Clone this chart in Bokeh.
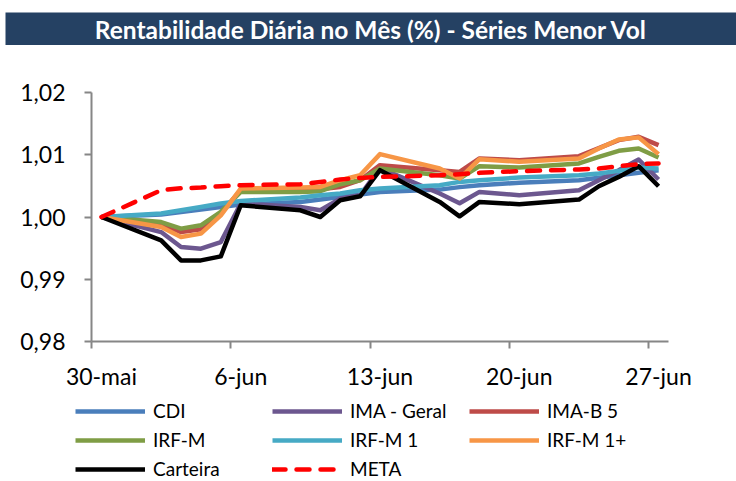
import pandas as pd
from bokeh.plotting import figure
from bokeh.models import FixedTicker, Legend, LegendItem, Range1d
from bokeh.layouts import column
from bokeh.embed import file_html
from bokeh.resources import INLINE
from bokeh.core.properties import value

TITLE = "Rentabilidade Diária no Mês (%) - Séries Menor Vol"

dates = ["2014-05-30", "2014-06-02", "2014-06-03", "2014-06-04", "2014-06-05",
         "2014-06-06", "2014-06-09", "2014-06-10", "2014-06-11", "2014-06-12",
         "2014-06-13", "2014-06-16", "2014-06-17", "2014-06-18", "2014-06-20",
         "2014-06-23", "2014-06-24", "2014-06-25", "2014-06-26", "2014-06-27"]

cdi = [1.0000, 1.0004, 1.0008, 1.0012, 1.0016, 1.0020, 1.0024, 1.0028, 1.0032, 1.0036,
       1.0040, 1.0044, 1.0048, 1.0051, 1.0055, 1.0059, 1.0063, 1.0067, 1.0071, 1.0075]
ima_geral = [1.0000, 0.99758, 0.99517, 0.99491, 0.99597, 1.00216, 1.00161, 1.00108, 1.00296, 1.00349,
             1.00784, 1.00377, 1.00221, 1.00403, 1.00349, 1.00430, 1.00591, 1.00752, 1.00924, 1.00602]
ima_b5 = [1.0000, 0.99882, 0.99758, 0.99802, 1.00060, 1.00430, 1.00430, 1.00446, 1.00483, 1.00591,
          1.00833, 1.00752, 1.00725, 1.00940, 1.00913, 1.00977, 1.01106, 1.01235, 1.01288, 1.01155]
irf_m = [1.0000, 0.99919, 0.99813, 0.99866, 1.00081, 1.00403, 1.00403, 1.00414, 1.00527, 1.00591,
         1.00779, 1.00671, 1.00618, 1.00816, 1.00795, 1.00860, 1.00966, 1.01063, 1.01101, 1.00957]
irf_m1 = [1.0000, 1.00055, 1.00108, 1.00161, 1.00216, 1.00258, 1.00312, 1.00349, 1.00377, 1.00430,
          1.00457, 1.00510, 1.00564, 1.00591, 1.00634, 1.00671, 1.00699, 1.00741, 1.00795, 1.00779]
irf_m1p = [1.0000, 0.99839, 0.99678, 0.99733, 1.00027, 1.00457, 1.00473, 1.00483, 1.00591, 1.00671,
           1.01010, 1.00779, 1.00618, 1.00929, 1.00886, 1.00940, 1.01101, 1.01246, 1.01279, 1.01010]
carteira = [1.0000, 0.99625, 0.99303, 0.99303, 0.99367, 1.00188, 1.00108, 1.00000, 1.00269, 1.00333,
            1.00752, 1.00242, 1.00011, 1.00242, 1.00205, 1.00280, 1.00494, 1.00644, 1.00816, 1.00494]
meta = [1.0000, 1.00430, 1.00462, 1.00473, 1.00494, 1.00510, 1.00527, 1.00564, 1.00602, 1.00628,
        1.00644, 1.00671, 1.00688, 1.00709, 1.00736, 1.00763, 1.00779, 1.00816, 1.00849, 1.00860]

x_tick_dates = ["2014-05-30", "2014-06-06", "2014-06-13", "2014-06-20", "2014-06-27"]
x_tick_labels = ["30-mai", "6-jun", "13-jun", "20-jun", "27-jun"]
y_tick_values = [0.98, 0.99, 1.00, 1.01, 1.02]
y_tick_labels = ["0,98", "0,99", "1,00", "1,01", "1,02"]

names = ["CDI", "IMA - Geral", "IMA-B 5", "IRF-M", "IRF-M 1", "IRF-M 1+", "Carteira", "META"]
series = [cdi, ima_geral, ima_b5, irf_m, irf_m1, irf_m1p, carteira, meta]
colors = ["#4A7EBB", "#6C578F", "#BE4B48", "#7F9D45", "#46AAC5", "#F79646", "#000000", "#FF0000"]

start = pd.Timestamp(dates[0])
# each day is a slot; points sit at the middle of their day slot
xs = [(pd.Timestamp(d) - start).days + 0.5 for d in dates]
tick_days = [(pd.Timestamp(d) - start).days for d in x_tick_dates]
label_pos = [t + 0.5 for t in tick_days]
n_days = 29  # axis covers 30-mai .. end of 27-jun

FONT = "Lato"
AXIS_COLOR = "#868686"
NAVY = "#254163"

# ---- geometry (pixels) ----
FIG_W = 736
LEFT_PAD = 5
FRAME_W = FIG_W - LEFT_PAD
FIG_H = 436                # main figure height
PLOT_L, PLOT_R = 86, 663   # axis box inside the frame (x)
PLOT_T, PLOT_B = 47, 296   # axis box inside the frame (y)
y_lo, y_hi = y_tick_values[0], y_tick_values[-1]
px_per_day = (PLOT_R - PLOT_L) / n_days
px_per_unit = (PLOT_B - PLOT_T) / (y_hi - y_lo)
x_start = 0 - PLOT_L / px_per_day
x_end = n_days + (FRAME_W - PLOT_R) / px_per_day
y_top = y_hi + PLOT_T / px_per_unit
y_bot = y_lo - (FIG_H - PLOT_B) / px_per_unit

# Title bar
t = figure(width=FIG_W, height=45, x_range=Range1d(0, 1), y_range=Range1d(0, 1),
           output_backend="svg", toolbar_location=None,
           x_axis_location=None, y_axis_location=None,
           min_border_left=LEFT_PAD, min_border_right=0, min_border_bottom=0, min_border_top=12,
           background_fill_color=NAVY, border_fill_color="white", outline_line_color=None)
t.grid.visible = False
t.text(x=[0.5], y=[0.48], text=[TITLE], text_align="center", text_baseline="middle",
       text_color="white", text_font=value(FONT), text_font_style="bold", text_font_size="24.5px")

p = figure(width=FIG_W, height=FIG_H, x_range=Range1d(x_start, x_end),
           y_range=Range1d(y_bot, y_top),
           output_backend="svg", toolbar_location=None,
           min_border_left=LEFT_PAD, min_border_right=0, min_border_top=0, min_border_bottom=0,
           outline_line_color=None, background_fill_color="white", border_fill_color="white")
p.grid.visible = False

renderers = []
for name, ys, c in zip(names, series, colors):
    if name == "META":
        r = p.line(xs, ys, line_color=c, line_width=4.5, line_dash="13 11",
                   line_cap="round", line_join="round")
    else:
        r = p.line(xs, ys, line_color=c, line_width=4.5, line_join="round")
    renderers.append(r)

# axes, fixed inside the frame
xa = p.xaxis[0]
xa.fixed_location = y_lo
xa.bounds = (0, n_days)
xa.ticker = FixedTicker(ticks=label_pos, minor_ticks=tick_days)
xa.major_label_overrides = {lp: lab for lp, lab in zip(label_pos, x_tick_labels)}
xa.major_tick_line_color = None
xa.major_tick_out = 7
xa.major_tick_in = 0
xa.minor_tick_out = 7
xa.minor_tick_in = 0
xa.minor_tick_line_color = AXIS_COLOR
xa.minor_tick_line_width = 2
xa.axis_line_color = AXIS_COLOR
xa.axis_line_width = 2
xa.major_label_standoff = 13
xa.major_label_text_font = FONT
xa.major_label_text_font_size = "23px"
xa.major_label_text_color = "black"

ya = p.yaxis[0]
ya.fixed_location = 0
ya.bounds = (y_lo, y_hi)
ya.ticker = FixedTicker(ticks=y_tick_values, minor_ticks=[])
ya.major_label_overrides = {v: lab for v, lab in zip(y_tick_values, y_tick_labels)}
ya.major_tick_out = 7
ya.major_tick_in = 0
ya.major_tick_line_color = AXIS_COLOR
ya.major_tick_line_width = 2
ya.minor_tick_line_color = None
ya.axis_line_color = AXIS_COLOR
ya.axis_line_width = 2
ya.major_label_standoff = 19
ya.major_label_text_font = FONT
ya.major_label_text_font_size = "23px"
ya.major_label_text_color = "black"

# legend: three rows of up to three columns
rows = [[0, 1, 2], [3, 4, 5], [6, 7]]
row_bottom = [59, 30, 1]
for idxs, yy in zip(rows, row_bottom):
    leg = Legend(items=[LegendItem(label=names[i], renderers=[renderers[i]]) for i in idxs],
                 orientation="horizontal", location=(70, yy),
                 glyph_width=70, glyph_height=20, label_standoff=8, label_width=119,
                 label_height=20, spacing=0, padding=0, margin=0,
                 border_line_alpha=0, background_fill_alpha=0,
                 label_text_font=FONT, label_text_font_size="19px",
                 label_text_color="black", label_text_baseline="middle")
    p.add_layout(leg, "center")

layout = column(t, p, spacing=0)
open("out.html", "w").write(file_html(layout, INLINE))
